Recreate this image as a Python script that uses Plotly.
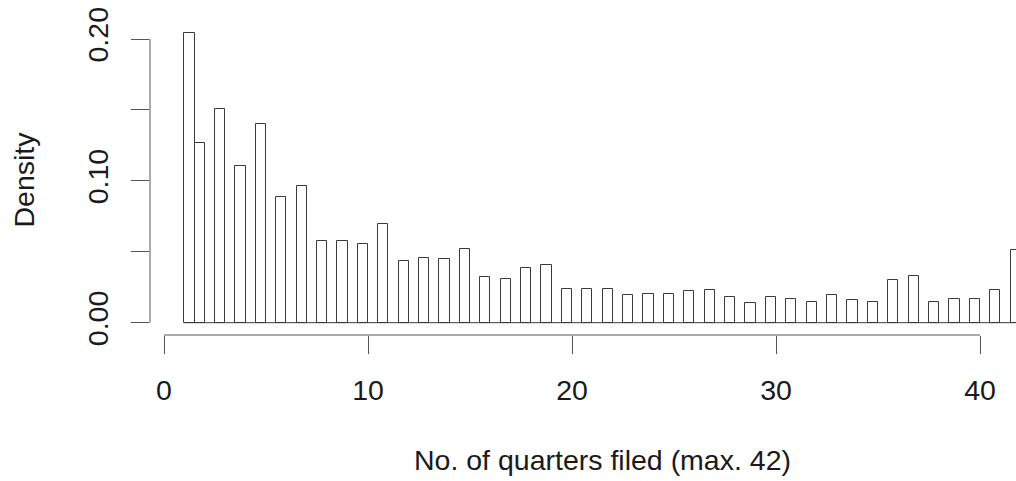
import plotly.graph_objects as go

# Number of quarters filed (1..42) and histogram density for each value
quarters = list(range(1, 43))
density = [0.2044, 0.1265, 0.1504, 0.1105, 0.1403, 0.0888, 0.0961, 0.0574, 0.0576, 0.0553,
           0.0694, 0.0435, 0.0458, 0.0447, 0.0522, 0.0324, 0.0306, 0.0386, 0.0404, 0.0235,
           0.0235, 0.0235, 0.0195, 0.0202, 0.0204, 0.0221, 0.0228, 0.0183, 0.0137, 0.0183,
           0.0169, 0.0148, 0.0195, 0.0158, 0.0148, 0.0299, 0.0329, 0.0148, 0.0169, 0.0169,
           0.0233, 0.0513]
bin_width = 0.5
x_ticks = [0, 10, 20, 30, 40]
y_ticks = [0, 0.05, 0.10, 0.15, 0.20]
y_tick_text = ["0.00", "", "0.10", "", "0.20"]
x_title = "No. of quarters filed (max. 42)"
y_title = "Density"

# R hist with breaks every 0.5 from the minimum: right-closed bins,
# the lowest value falls in [min, min+0.5], value k>min in (k-0.5, k]
centers = [q + bin_width / 2 if q == quarters[0] else q - bin_width / 2 for q in quarters]

FONT = "Liberation Sans, Arial, Helvetica, sans-serif"
TXT = "#1a1a1a"
LINE = "#555555"
BARLINE = "#3a3a3a"
FS = 28.5

fig = go.Figure()
# baseline drawn by the empty bins in R's hist
fig.add_trace(go.Scatter(x=[quarters[0], quarters[-1]], y=[0, 0],
                         mode="lines", line=dict(color=BARLINE, width=1),
                         hoverinfo="skip", showlegend=False))
fig.add_trace(go.Bar(x=centers, y=density, width=bin_width,
                     marker=dict(color="white", line=dict(color=BARLINE, width=1)),
                     showlegend=False))

W, H = 1016, 481
L, R, T, B = 150, 0, 21, 146
px_per_x = 20.4
x0_px = 164
px_per_y = 1418.5
y0_px = 322.7
xmin = (L - x0_px) / px_per_x
xmax = xmin + (W - L - R) / px_per_x
ymin = -((H - B) - y0_px) / px_per_y
ymax = (y0_px - T) / px_per_y

fig.update_layout(
    width=W, height=H,
    margin=dict(l=L, r=R, t=T, b=B, pad=0),
    plot_bgcolor="white", paper_bgcolor="white",
    font=dict(family=FONT, size=FS, color=TXT),
    bargap=0,
    xaxis=dict(range=[xmin, xmax], tickvals=x_ticks, ticktext=[str(v) for v in x_ticks],
               ticks="outside", ticklen=18, tickcolor=LINE, tickwidth=1,
               showgrid=False, zeroline=False, showline=False,
               ticklabelstandoff=12, tickfont=dict(size=FS, family=FONT, color=TXT)),
    yaxis=dict(range=[ymin, ymax], tickvals=y_ticks, ticktext=y_tick_text,
               ticks="outside", ticklen=18, tickcolor=LINE, tickwidth=1,
               tickangle=-90, showgrid=False, zeroline=False, showline=False,
               ticklabelstandoff=12, tickfont=dict(size=FS, family=FONT, color=TXT)),
    shapes=[
        dict(type="line", xref="x", yref="paper", x0=x_ticks[0], x1=x_ticks[-1], y0=0, y1=0,
             line=dict(color=LINE, width=1)),
        dict(type="line", xref="paper", yref="y", x0=0, x1=0, y0=y_ticks[0], y1=y_ticks[-1],
             line=dict(color=LINE, width=1)),
    ],
    annotations=[
        dict(text=x_title, xref="paper", yref="paper", x=(602 - L) / (W - L - R),
             y=-(460 - (H - B)) / (H - B - T), xanchor="center", yanchor="middle",
             showarrow=False, font=dict(size=FS, family=FONT, color=TXT)),
        dict(text=y_title, xref="paper", yref="paper", x=(24 - L) / (W - L - R),
             y=((H - B) - 179.5) / (H - B - T), xanchor="center", yanchor="middle",
             textangle=-90, showarrow=False, font=dict(size=FS, family=FONT, color=TXT)),
    ],
)

fig.write_html("out.html")
